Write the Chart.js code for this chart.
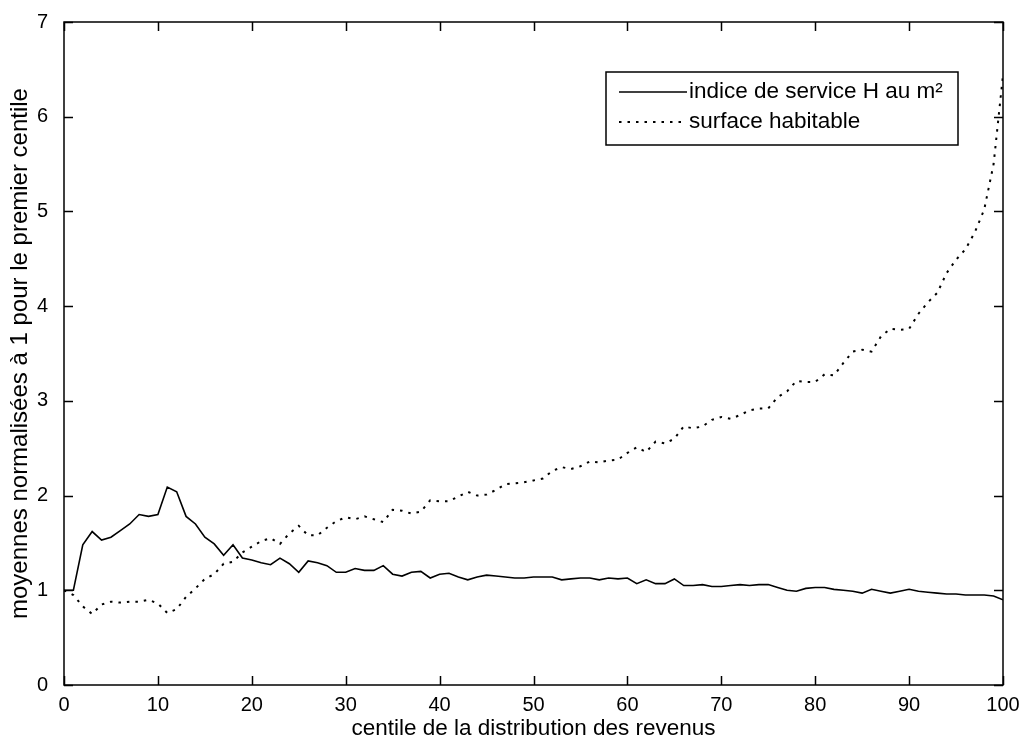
<!DOCTYPE html>
<html>
<head>
<meta charset="utf-8">
<script src="https://cdn.jsdelivr.net/npm/chart.js@4"></script>
<style>
  html, body { margin: 0; padding: 0; background: #fff; }
  #wrap { width: 1022px; height: 740px; }
</style>
</head>
<body>
<div id="wrap"><canvas id="myChart" width="1022" height="740"></canvas></div>
<script>
// centiles (x) and the two normalised series
const centiles = [0, 1, 2, 3, 4, 5, 6, 7, 8, 9, 10, 11, 12, 13, 14, 15, 16, 17, 18, 19, 20,
  21, 22, 23, 24, 25, 26, 27, 28, 29, 30, 31, 32, 33, 34, 35, 36, 37, 38, 39, 40,
  41, 42, 43, 44, 45, 46, 47, 48, 49, 50, 51, 52, 53, 54, 55, 56, 57, 58, 59, 60,
  61, 62, 63, 64, 65, 66, 67, 68, 69, 70, 71, 72, 73, 74, 75, 76, 77, 78, 79, 80,
  81, 82, 83, 84, 85, 86, 87, 88, 89, 90, 91, 92, 93, 94, 95, 96, 97, 98, 99, 100];

const indiceService = [1.00, 1.00, 1.48, 1.62, 1.53, 1.56, 1.63, 1.70, 1.80, 1.78, 1.80,
  2.09, 2.04, 1.78, 1.70, 1.56, 1.49, 1.37, 1.48, 1.34, 1.32,
  1.29, 1.27, 1.34, 1.28, 1.19, 1.31, 1.29, 1.26, 1.19, 1.19,
  1.23, 1.21, 1.21, 1.26, 1.17, 1.15, 1.19, 1.20, 1.13, 1.17,
  1.18, 1.14, 1.11, 1.14, 1.16, 1.15, 1.14, 1.13, 1.13, 1.14,
  1.14, 1.14, 1.11, 1.12, 1.13, 1.13, 1.11, 1.13, 1.12, 1.13,
  1.07, 1.11, 1.07, 1.07, 1.12, 1.05, 1.05, 1.06, 1.04, 1.04,
  1.05, 1.06, 1.05, 1.06, 1.06, 1.03, 1.00, 0.99, 1.02, 1.03,
  1.03, 1.01, 1.00, 0.99, 0.97, 1.01, 0.99, 0.97, 0.99, 1.01,
  0.99, 0.98, 0.97, 0.96, 0.96, 0.95, 0.95, 0.95, 0.94, 0.90];

const surfaceHabitable = [1.00, 0.95, 0.83, 0.75, 0.85, 0.88, 0.87, 0.88, 0.88, 0.90, 0.86,
  0.76, 0.80, 0.93, 1.02, 1.12, 1.17, 1.28, 1.30, 1.40, 1.46,
  1.52, 1.55, 1.49, 1.60, 1.68, 1.58, 1.58, 1.66, 1.73, 1.77,
  1.75, 1.78, 1.75, 1.72, 1.85, 1.84, 1.81, 1.83, 1.95, 1.94,
  1.94, 1.99, 2.04, 2.00, 2.01, 2.06, 2.12, 2.13, 2.14, 2.16,
  2.18, 2.26, 2.30, 2.28, 2.31, 2.36, 2.35, 2.37, 2.38, 2.45,
  2.51, 2.46, 2.57, 2.55, 2.60, 2.73, 2.71, 2.73, 2.80, 2.83,
  2.81, 2.85, 2.90, 2.92, 2.92, 3.04, 3.10, 3.21, 3.20, 3.20,
  3.28, 3.27, 3.40, 3.52, 3.54, 3.52, 3.68, 3.76, 3.75, 3.76,
  3.92, 4.04, 4.14, 4.35, 4.49, 4.60, 4.78, 5.02, 5.50, 6.44];

const seriesNames = ["indice de service H au m²", "surface habitable"];
const xTicks = [0, 10, 20, 30, 40, 50, 60, 70, 80, 90, 100];
const yTicks = [0, 1, 2, 3, 4, 5, 6, 7];

const FONT = "'Liberation Sans', Arial, sans-serif";
const dotDash = [2.5, 6];

// box round the plot, with inward ticks on all four sides (matlab style)
const frame = {
  id: "frame",
  afterDatasetsDraw(chart) {
    const ctx = chart.ctx;
    const a = chart.chartArea;
    const xs = chart.scales.x;
    const ys = chart.scales.y;
    const len = 9;
    ctx.save();
    ctx.strokeStyle = "#000";
    ctx.lineWidth = 1.5;
    ctx.beginPath();
    xTicks.forEach((v) => {
      const px = Math.round(xs.getPixelForValue(v)) + 0.5;
      ctx.moveTo(px, a.bottom); ctx.lineTo(px, a.bottom - len);
      ctx.moveTo(px, a.top); ctx.lineTo(px, a.top + len);
    });
    yTicks.forEach((v) => {
      const py = Math.round(ys.getPixelForValue(v)) + 0.5;
      ctx.moveTo(a.left, py); ctx.lineTo(a.left + len, py);
      ctx.moveTo(a.right, py); ctx.lineTo(a.right - len, py);
    });
    ctx.stroke();
    ctx.strokeRect(a.left, a.top, a.right - a.left, a.bottom - a.top);
    ctx.restore();
  },
};

// legend box in the upper right of the plot
const legendBox = {
  id: "legendBox",
  afterDatasetsDraw(chart) {
    const ctx = chart.ctx;
    const a = chart.chartArea;
    const left = a.right - 397;
    const top = a.top + 50;
    const w = 352;
    const h = 73;
    ctx.save();
    ctx.fillStyle = "#fff";
    ctx.fillRect(left, top, w, h);
    ctx.strokeStyle = "#000";
    ctx.lineWidth = 1.5;
    ctx.strokeRect(left, top, w, h);

    const rows = [top + 20, top + 50];
    chart.data.datasets.forEach((ds, i) => {
      ctx.beginPath();
      ctx.setLineDash(ds.borderDash || []);
      ctx.lineWidth = ds.borderWidth;
      ctx.moveTo(left + 13, rows[i]);
      ctx.lineTo(left + 81, rows[i]);
      ctx.stroke();
      ctx.setLineDash([]);
      ctx.fillStyle = "#000";
      ctx.font = "22.5px " + FONT;
      ctx.textBaseline = "middle";
      ctx.fillText(ds.label, left + 83, rows[i]);
    });
    ctx.restore();
  },
};

const myChart = new Chart("myChart", {
  type: "line",
  data: {
    datasets: [
      {
        label: seriesNames[0],
        data: centiles.map((c, i) => ({ x: c, y: indiceService[i] })),
        borderColor: "#000",
        borderWidth: 1.6,
        pointRadius: 0,
        tension: 0,
        fill: false,
      },
      {
        label: seriesNames[1],
        data: centiles.map((c, i) => ({ x: c, y: surfaceHabitable[i] })),
        borderColor: "#000",
        borderWidth: 2,
        borderDash: dotDash,
        pointRadius: 0,
        tension: 0,
        fill: false,
      },
    ],
  },
  options: {
    responsive: false,
    animation: false,
    layout: { padding: { top: 22, right: 19, left: 0, bottom: 0 } },
    plugins: {
      legend: { display: false },
      tooltip: { enabled: false },
    },
    scales: {
      x: {
        type: "linear",
        min: 0,
        max: 100,
        afterBuildTicks: (scale) => { scale.ticks = xTicks.map((v) => ({ value: v })); },
        afterFit: (scale) => { scale.height = 55; },
        grid: { display: false },
        border: { display: false },
        ticks: { color: "#000", padding: 1, font: { family: FONT, size: 20, lineHeight: 1.1 }, maxRotation: 0 },
        title: {
          display: true,
          text: "centile de la distribution des revenus",
          color: "#000",
          font: { family: FONT, size: 22.5, lineHeight: 1.0 },
          padding: { top: 0, bottom: 0 },
        },
      },
      y: {
        min: 0,
        max: 7,
        afterBuildTicks: (scale) => { scale.ticks = yTicks.map((v) => ({ value: v })); },
        afterFit: (scale) => { scale.width = 64; },
        grid: { display: false },
        border: { display: false },
        ticks: { color: "#000", padding: 8, font: { family: FONT, size: 20 } },
        title: {
          display: true,
          text: "moyennes normalisées à 1 pour le premier centile",
          color: "#000",
          font: { family: FONT, size: 24, lineHeight: 1.1 },
          padding: { top: 7, bottom: 0 },
        },
      },
    },
  },
  plugins: [frame, legendBox],
});
</script>
</body>
</html>
